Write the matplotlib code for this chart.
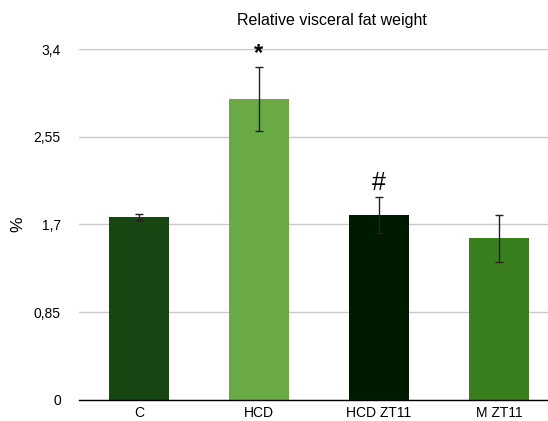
import matplotlib
matplotlib.use("Agg")
import matplotlib.pyplot as plt
from matplotlib.ticker import FixedLocator, FixedFormatter

plt.rcParams['font.family'] = ['Liberation Sans', 'DejaVu Sans']

groups = ["C", "HCD", "HCD ZT11", "M ZT11"]
means = [1.77, 2.92, 1.79, 1.565]
errors = [0.03, 0.31, 0.175, 0.225]
colors = ["#184612", "#6aaa44", "#001a00", "#3a7f1e"]
y_ticks = [0, 0.85, 1.7, 2.55, 3.4]
y_tick_labels = ["0", "0,85", "1,7", "2,55", "3,4"]

fig = plt.figure(figsize=(5.48, 4.21), dpi=100)
ax = fig.add_axes([0.144, 0.0499, 0.876, 0.8337])

x = list(range(len(groups)))
ax.bar(x, means, width=0.5, color=colors, zorder=3)
ax.errorbar(x, means, yerr=errors, fmt="none", ecolor="#222222",
            elinewidth=1, capsize=3, capthick=1, zorder=4)

# significance markers above the error bars
ax.text(1, 3.36, "*", ha="center", va="center", fontsize=17,
        fontweight="bold", clip_on=False)
ax.text(2, 2.10, "#", ha="center", va="center", fontsize=18, clip_on=False)

ax.set_xlim(-0.5, 3.5)
ax.set_ylim(0, 3.4)
ax.set_xticks(x)
ax.set_xticklabels(groups, fontsize=10)
ax.yaxis.set_major_locator(FixedLocator(y_ticks))
ax.yaxis.set_major_formatter(FixedFormatter(y_tick_labels))
ax.tick_params(axis="y", length=0, labelsize=10, pad=13)
ax.tick_params(axis="x", length=0, pad=4)
ax.grid(axis="y", color="#c8c8c8", linewidth=1, zorder=0)
ax.set_axisbelow(True)
for side in ("left", "right", "top"):
    ax.spines[side].set_visible(False)
ax.spines["bottom"].set_color("black")
ax.spines["bottom"].set_linewidth(1)
ax.spines["bottom"].set_zorder(5)

fig.text(18 / 548, 1 - 224 / 421, "%", rotation=90, ha="center", va="center", fontsize=12.5)
fig.text(332 / 548, 1 - 20 / 421, "Relative visceral fat weight", ha="center", va="center", fontsize=11.5)

fig.savefig("out.png", dpi=100)
